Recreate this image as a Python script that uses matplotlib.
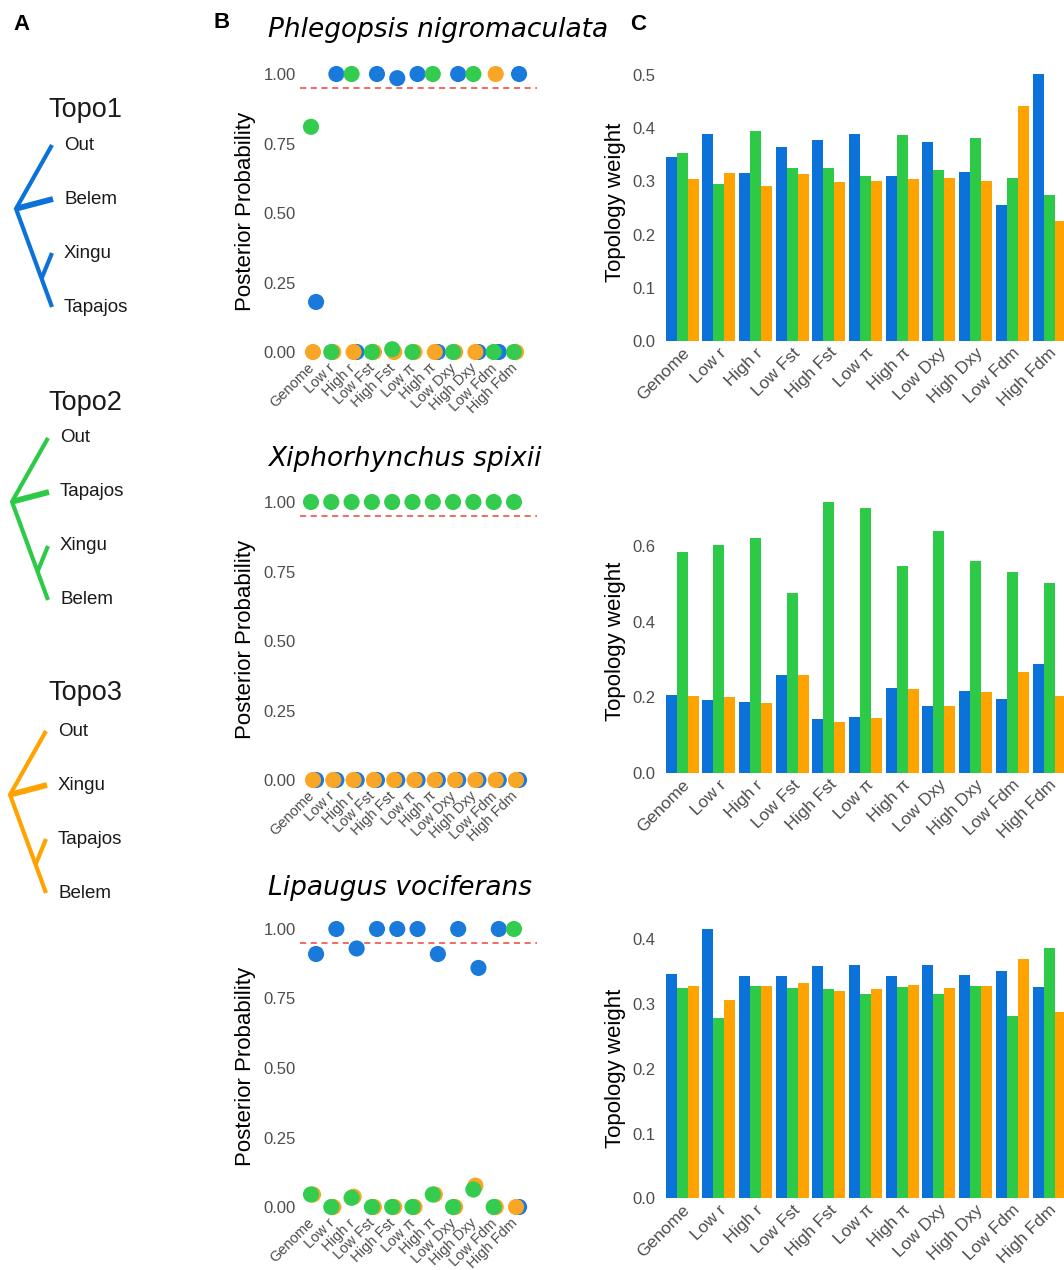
import matplotlib
matplotlib.use("Agg")
import matplotlib.pyplot as plt
import numpy as np

# ---------------- data ----------------
categories = ["Genome", "Low r", "High r", "Low Fst", "High Fst", "Low π",
              "High π", "Low Dxy", "High Dxy", "Low Fdm", "High Fdm"]
species = ["Phlegopsis nigromaculata", "Xiphorhynchus spixii", "Lipaugus vociferans"]
topologies = ["Topo1", "Topo2", "Topo3"]
topo_tips = [["Out", "Belem", "Xingu", "Tapajos"],
             ["Out", "Tapajos", "Xingu", "Belem"],
             ["Out", "Xingu", "Tapajos", "Belem"]]

# Posterior probabilities (panel B)
pp_phleg_t1 = [0.18, 1.00, 0.00, 1.00, 0.985, 1.00, 0.00, 1.00, 0.00, 0.00, 1.00]
pp_phleg_t2 = [0.81, 0.00, 1.00, 0.00, 0.010, 0.00, 1.00, 0.00, 1.00, 0.00, 0.00]
pp_phleg_t3 = [0.00, 0.00, 0.00, 0.00, 0.000, 0.00, 0.00, 0.00, 0.00, 1.00, 0.00]

pp_xiph_t1 = [0.0] * 11
pp_xiph_t2 = [1.0] * 11
pp_xiph_t3 = [0.0] * 11

pp_lip_t1 = [0.91, 1.00, 0.93, 1.00, 1.00, 1.00, 0.91, 1.00, 0.86, 1.00, 0.00]
pp_lip_t2 = [0.045, 0.00, 0.033, 0.00, 0.00, 0.00, 0.045, 0.00, 0.063, 0.00, 1.00]
pp_lip_t3 = [0.045, 0.00, 0.037, 0.00, 0.00, 0.00, 0.045, 0.00, 0.077, 0.00, 0.00]

# Topology weights (panel C)
tw_phleg_t1 = [0.345, 0.390, 0.315, 0.364, 0.378, 0.389, 0.310, 0.375, 0.318, 0.256, 0.501]
tw_phleg_t2 = [0.354, 0.296, 0.395, 0.326, 0.326, 0.311, 0.387, 0.322, 0.382, 0.306, 0.275]
tw_phleg_t3 = [0.304, 0.315, 0.292, 0.313, 0.298, 0.301, 0.305, 0.306, 0.301, 0.441, 0.226]

tw_xiph_t1 = [0.206, 0.192, 0.189, 0.259, 0.144, 0.148, 0.225, 0.176, 0.218, 0.195, 0.289]
tw_xiph_t2 = [0.584, 0.602, 0.622, 0.476, 0.717, 0.702, 0.548, 0.641, 0.561, 0.531, 0.503]
tw_xiph_t3 = [0.204, 0.200, 0.185, 0.260, 0.135, 0.145, 0.221, 0.176, 0.215, 0.268, 0.203]

tw_lip_t1 = [0.347, 0.416, 0.344, 0.343, 0.358, 0.360, 0.344, 0.360, 0.345, 0.351, 0.326]
tw_lip_t2 = [0.325, 0.279, 0.328, 0.325, 0.323, 0.316, 0.327, 0.316, 0.328, 0.281, 0.386]
tw_lip_t3 = [0.328, 0.306, 0.328, 0.332, 0.320, 0.324, 0.329, 0.325, 0.328, 0.369, 0.288]

pp_data = [[pp_phleg_t1, pp_phleg_t2, pp_phleg_t3],
           [pp_xiph_t1, pp_xiph_t2, pp_xiph_t3],
           [pp_lip_t1, pp_lip_t2, pp_lip_t3]]
tw_data = [[tw_phleg_t1, tw_phleg_t2, tw_phleg_t3],
           [tw_xiph_t1, tw_xiph_t2, tw_xiph_t3],
           [tw_lip_t1, tw_lip_t2, tw_lip_t3]]
threshold = 0.95

# ---------------- style ----------------
colors = ["#0B72DA", "#2DCA48", "#FFA300"]
dot_colors = ["#1A7ADB", "#33CC4F", "#F9A525"]
jitter = [0.2, -0.05, 0.05]
dot_zorder = [3, 5, 4]
tick_col = "#4D4D4D"
SANS = "Liberation Sans"

W, H = 1064, 1270
fig = plt.figure(figsize=(W / 100, H / 100), dpi=100)
fig.patch.set_facecolor("white")


def px_axes(left, top, right, bottom):
    return fig.add_axes([left / W, 1 - bottom / H, (right - left) / W, (bottom - top) / H])


def ftext(x, y, s, **kw):
    return fig.text(x / W, 1 - y / H, s, **kw)


# ---------------- panel A: trees ----------------
axA = px_axes(0, 0, W, H)
axA.set_xlim(0, W)
axA.set_ylim(H, 0)
axA.axis("off")
axA.patch.set_alpha(0)

tree_top = [145, 438, 731]
tree_tipx = [52, 48, 46]
title_y = [110, 403, 693]
dy = 54
for k in range(3):
    y0 = tree_top[k]
    tx = tree_tipx[k]
    rx = tx - 36
    ys = [y0 + i * dy for i in range(4)]
    ry = y0 + 1.18 * dy
    c = colors[k]
    axA.plot([tx, rx, tx], [ys[0], ry, ys[3]], color=c, lw=3.0, solid_capstyle="butt",
             solid_joinstyle="miter")
    axA.plot([rx, tx + 1], [ry, ys[1]], color=c, lw=4.2, solid_capstyle="butt")
    nx = rx + (tx - rx) * 0.71
    ny = ry + (ys[3] - ry) * 0.71
    axA.plot([nx, tx], [ny, ys[2]], color=c, lw=3.0, solid_capstyle="butt")
    for i in range(4):
        axA.text(tx + 12, ys[i], topo_tips[k][i], fontsize=13.5, family=SANS,
                 color="#1a1a1a", va="center", ha="left")
    axA.text(85, title_y[k], topologies[k], fontsize=19.5, family=SANS,
             color="#1a1a1a", va="center", ha="center")

ftext(22, 25, "A", fontsize=16, family=SANS, weight="bold", va="center", ha="center")
ftext(222, 22, "B", fontsize=16, family=SANS, weight="bold", va="center", ha="center")
ftext(638, 25, "C", fontsize=16, family=SANS, weight="bold", va="center", ha="center")

# ---------------- panel B & C ----------------
x = np.arange(1, len(categories) + 1)
b_one_y = [74, 502, 929]
b_ylab_y = [211, 639, 1066]
b_title_y = [30, 459, 888]
c_zero_y = [341, 773, 1198.3]
c_scale = [532, 378, 647.5]  # px per unit
c_ymax = [0.51, 0.73, 0.42]
c_ticks = [[0.0, 0.1, 0.2, 0.3, 0.4, 0.5], [0.0, 0.2, 0.4, 0.6], [0.0, 0.1, 0.2, 0.3, 0.4]]
c_ylab_y = [202, 641, 1068]

step_b = 20.3
bl, br = 300, 537
for r in range(3):
    # ---- panel B ----
    unit = 278
    top = b_one_y[r] - 0.05 * unit
    bottom = b_one_y[r] + 1.05 * unit
    ax = px_axes(bl, top, br, bottom)
    ax.set_ylim(-0.05, 1.05)
    ax.set_xlim(1 - (312 - bl) / step_b, 1 + (br - 312) / step_b)
    ax.axhline(threshold, color="#E8453C", lw=1.1, ls=(0, (4, 3)), zorder=1)
    for k in range(3):
        ax.scatter(x + jitter[k], pp_data[r][k], s=135, color=dot_colors[k],
                   edgecolors="none", zorder=dot_zorder[k])
    ax.set_yticks([0, 0.25, 0.5, 0.75, 1.0])
    ax.set_yticklabels(["0.00", "0.25", "0.50", "0.75", "1.00"])
    ax.set_xticks(x)
    ax.set_xticklabels(categories, rotation=45, ha="right", va="center",
                       rotation_mode="anchor")
    ax.tick_params(axis="y", length=0, pad=3, labelsize=12, labelcolor=tick_col)
    ax.tick_params(axis="x", length=0, pad=0, labelsize=10.5, labelcolor=tick_col)
    for lab in ax.get_xticklabels() + ax.get_yticklabels():
        lab.set_family(SANS)
    for sp in ax.spines.values():
        sp.set_visible(False)
    ax.patch.set_alpha(0)
    ftext(245, b_ylab_y[r], "Posterior Probability", rotation=90, fontsize=16,
          family=SANS, va="center", ha="center", color="black")
    ftext(268, b_title_y[r], species[r], fontsize=19, family="DejaVu Sans",
          style="italic", va="center", ha="left", color="black")

    # ---- panel C ----
    cl = 660
    step_c = 36.7
    cr = cl + 11.2 * step_c
    zero = c_zero_y[r]
    ctop = zero - c_ymax[r] * c_scale[r]
    axc = px_axes(cl, ctop, cr, zero)
    axc.set_ylim(0, c_ymax[r])
    axc.set_xlim(0.4, 11.6)
    bw = 0.3
    for k in range(3):
        axc.bar(x + (k - 1) * bw, tw_data[r][k], width=bw, color=colors[k],
                edgecolor="none", align="center")
    axc.set_yticks(c_ticks[r])
    axc.set_yticklabels([f"{v:.1f}" for v in c_ticks[r]])
    axc.set_xticks(x)
    axc.set_xticklabels(categories, rotation=45, ha="right", va="top",
                        rotation_mode="anchor")
    axc.tick_params(axis="y", length=0, pad=3, labelsize=12, labelcolor=tick_col)
    axc.tick_params(axis="x", length=0, pad=3, labelsize=12.5, labelcolor=tick_col)
    for lab in axc.get_xticklabels() + axc.get_yticklabels():
        lab.set_family(SANS)
    for sp in axc.spines.values():
        sp.set_visible(False)
    axc.patch.set_alpha(0)
    ftext(615, c_ylab_y[r], "Topology weight", rotation=90, fontsize=16,
          family=SANS, va="center", ha="center", color="black")

fig.savefig("out.png", dpi=100)
